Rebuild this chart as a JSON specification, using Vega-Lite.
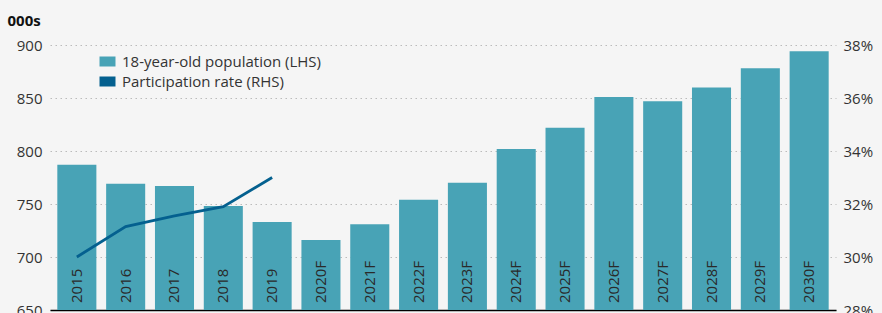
{
  "$schema": "https://vega.github.io/schema/vega-lite/v6.json",
  "width": 786,
  "height": 265,
  "autosize": {"type": "none"},
  "padding": {"left": 50, "top": 45, "right": 46, "bottom": 3},
  "background": "#f5f5f5",
  "config": {
    "font": "Open Sans",
    "view": {"stroke": null},
    "axis": {"labelFont": "Open Sans", "labelFontSize": 15, "labelColor": "#333333", "titleFont": "Open Sans"}
  },
  "data": {
    "values": [
      {"year": "2015", "pop": 787, "rate": 30.0},
      {"year": "2016", "pop": 769, "rate": 31.15},
      {"year": "2017", "pop": 767, "rate": 31.55},
      {"year": "2018", "pop": 748, "rate": 31.9},
      {"year": "2019", "pop": 733, "rate": 33.0},
      {"year": "2020F", "pop": 716, "rate": null},
      {"year": "2021F", "pop": 731, "rate": null},
      {"year": "2022F", "pop": 754, "rate": null},
      {"year": "2023F", "pop": 770, "rate": null},
      {"year": "2024F", "pop": 802, "rate": null},
      {"year": "2025F", "pop": 822, "rate": null},
      {"year": "2026F", "pop": 851, "rate": null},
      {"year": "2027F", "pop": 847, "rate": null},
      {"year": "2028F", "pop": 860, "rate": null},
      {"year": "2029F", "pop": 878, "rate": null},
      {"year": "2030F", "pop": 894, "rate": null}
    ]
  },
  "encoding": {
    "x": {
      "field": "year",
      "type": "ordinal",
      "sort": null,
      "scale": {"paddingInner": 0.2, "paddingOuter": 0.15},
      "axis": {"title": null, "labels": false, "ticks": false, "grid": false, "domainColor": "#000000", "domainWidth": 1.5}
    }
  },
  "layer": [
    {
      "layer": [
        {
          "mark": {"type": "bar", "clip": true},
          "encoding": {
            "y": {
              "field": "pop",
              "type": "quantitative",
              "scale": {"domain": [650, 900], "zero": false, "nice": false},
              "axis": {
                "values": [650, 700, 750, 800, 850, 900],
                "title": "000s",
                "titleAngle": 0,
                "titleAlign": "left",
                "titleBaseline": "alphabetic",
                "titleX": -43,
                "titleY": -20,
                "titleFontSize": 15,
                "titleFontWeight": "bold",
                "titleColor": "#111111",
                "domain": false,
                "ticks": false,
                "labelPadding": 8,
                "grid": true,
                "gridColor": "#bbbbbb",
                "gridDash": [1.5, 3.5],
                "gridWidth": 1
              }
            },
            "color": {
              "datum": "18-year-old population (LHS)",
              "scale": {
                "domain": ["18-year-old population (LHS)", "Participation rate (RHS)"],
                "range": ["#48a3b6", "#04608f"]
              },
              "legend": {
                "title": null,
                "orient": "none",
                "legendX": 50,
                "legendY": 9,
                "symbolType": "M-1.6,-1H1.6V1H-1.6Z",
                "symbolSize": 100,
                "symbolStrokeWidth": 0,
                "labelFontSize": 15,
                "labelFont": "Open Sans",
                "labelColor": "#333333",
                "labelOffset": 7,
                "labelLimit": 0,
                "rowPadding": 4
              }
            }
          }
        },
        {
          "mark": {"type": "text", "angle": 270, "align": "left", "baseline": "middle", "dx": 7, "fontSize": 15, "color": "#2a2a2a", "font": "Open Sans"},
          "encoding": {
            "y": {
              "datum": 650,
              "type": "quantitative",
              "scale": {"domain": [650, 900], "zero": false, "nice": false}
            },
            "text": {"field": "year"}
          }
        }
      ]
    },
    {
      "transform": [{"filter": "datum.rate != null"}],
      "mark": {"type": "line", "strokeWidth": 2.8},
      "encoding": {
        "y": {
          "field": "rate",
          "type": "quantitative",
          "scale": {"domain": [28, 38], "zero": false, "nice": false},
          "axis": {
            "orient": "right",
            "values": [28, 30, 32, 34, 36, 38],
            "labelExpr": "datum.value + '%'",
            "title": null,
            "domain": false,
            "ticks": false,
            "grid": false,
            "labelPadding": 7
          }
        },
        "color": {"datum": "Participation rate (RHS)"}
      }
    }
  ],
  "resolve": {"scale": {"y": "independent"}}
}
